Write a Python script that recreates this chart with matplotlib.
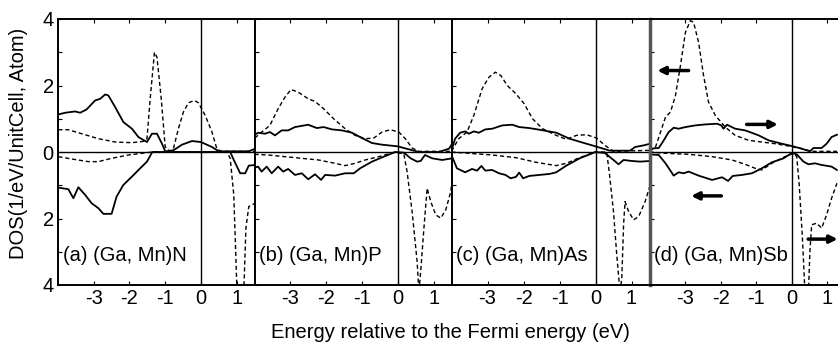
import numpy as np
import matplotlib
matplotlib.use("Agg")
import matplotlib.pyplot as plt

plt.rcParams['font.family'] = ['Liberation Sans', 'DejaVu Sans']
plt.rcParams['axes.unicode_minus'] = False

# (a) (Ga, Mn)N
a_up_solid_e = [-3.99, -3.80, -3.52, -3.38, -3.20, -2.96, -2.82, -2.68, -2.59, -2.40, -2.17, -1.93, -1.75,
                -1.51, -1.37, -1.23, -1.09, -1.00, -0.77, -0.53, -0.25, 0.00, 0.31, 0.50, 1.34, 1.52]
a_up_solid = [1.13, 1.18, 1.22, 1.18, 1.28, 1.55, 1.60, 1.73, 1.70, 1.35, 0.90, 0.70, 0.45,
              0.30, 0.55, 0.55, 0.25, 0.02, 0.05, 0.22, 0.33, 0.30, 0.15, 0.02, 0.02, 0.10]
a_up_dash_e = [-3.99, -3.71, -3.34, -2.87, -2.40, -1.93, -1.61, -1.51, -1.42, -1.30, -1.23, -1.11, -1.00,
               -0.86, -0.77, -0.63, -0.49, -0.35, -0.18, -0.07, 0.12, 0.31, 0.45, 0.59, 1.52]
a_up_dash = [0.67, 0.67, 0.55, 0.40, 0.30, 0.28, 0.32, 0.40, 1.60, 3.00, 2.85, 1.60, 0.15,
             0.02, 0.10, 0.70, 1.20, 1.48, 1.55, 1.48, 1.10, 0.60, 0.08, 0.02, 0.02]
a_dn_solid_e = [-3.99, -3.71, -3.57, -3.43, -3.24, -3.06, -2.87, -2.73, -2.50, -2.36, -2.17, -1.93, -1.70,
                -1.51, -1.36, 0.82, 0.92, 1.10, 1.24, 1.34, 1.52]
a_dn_solid = [-1.07, -1.12, -1.39, -1.06, -1.29, -1.54, -1.69, -1.86, -1.86, -1.34, -0.99, -0.74, -0.49,
              -0.29, 0.00, 0.00, -0.24, -0.64, -0.64, -0.41, -0.39]
a_dn_dash_e = [-3.99, -3.62, -3.15, -2.87, -2.50, -2.03, -1.37, 0.73, 0.82, 0.92, 1.01, 1.10, 1.20,
               1.26, 1.34, 1.52]
a_dn_dash = [-0.14, -0.21, -0.29, -0.29, -0.19, -0.09, 0.00, 0.00, -0.19, -1.29, -4.2, -4.3, -4.2,
             -2.29, -1.64, -1.54]

# (b) (Ga, Mn)P
b_up_solid_e = [-3.99, -3.90, -3.71, -3.57, -3.43, -3.24, -3.06, -2.87, -2.50, -2.26, -2.07, -1.84, -1.56,
                -1.28, -1.00, -0.72, -0.44, 0.00, 0.31, 0.59, 1.15, 1.43, 1.52]
b_up_solid = [0.52, 0.58, 0.55, 0.60, 0.50, 0.65, 0.65, 0.75, 0.82, 0.72, 0.75, 0.68, 0.65,
              0.58, 0.42, 0.27, 0.22, 0.17, 0.08, 0.00, 0.00, 0.10, 0.25]
b_up_dash_e = [-3.99, -3.80, -3.57, -3.34, -3.15, -2.98, -2.78, -2.50, -2.31, -2.07, -1.79, -1.47, -1.19,
               -0.91, -0.67, -0.44, -0.21, 0.03, 0.21, 0.40, 0.59, 1.52]
b_up_dash = [0.42, 0.60, 0.80, 1.30, 1.65, 1.88, 1.80, 1.60, 1.52, 1.30, 1.00, 0.70, 0.50,
             0.40, 0.42, 0.60, 0.67, 0.60, 0.40, 0.12, 0.02, 0.02]
b_dn_solid_e = [-4.00, -3.90, -3.80, -3.66, -3.52, -3.34, -3.20, -3.06, -2.87, -2.68, -2.50, -2.31, -2.14,
                -2.03, -1.75, -1.47, -1.23, -1.05, -0.72, -0.39, -0.07, 0.17, 0.36, 0.54, 0.64, 0.76,
                0.96, 1.24, 1.52]
b_dn_solid = [-0.47, -0.44, -0.59, -0.44, -0.64, -0.44, -0.59, -0.51, -0.69, -0.64, -0.82, -0.67, -0.84,
              -0.69, -0.71, -0.64, -0.64, -0.49, -0.29, -0.14, 0.00, -0.02, -0.19, -0.29, -0.27, -0.09,
              -0.19, -0.24, -0.19]
b_dn_dash_e = [-4.00, -3.62, -3.15, -2.68, -2.21, -1.75, -1.47, -1.19, -0.91, -0.53, -0.07, 0.17, 0.26,
               0.40, 0.54, 0.59, 0.64, 0.73, 0.82, 0.92, 1.06, 1.20, 1.34, 1.48, 1.52]
b_dn_dash = [-0.07, -0.09, -0.14, -0.19, -0.24, -0.34, -0.41, -0.34, -0.24, -0.14, 0.00, -0.06, -0.59,
             -1.79, -3.29, -4.2, -3.59, -2.29, -1.09, -1.49, -1.89, -1.99, -1.74, -1.19, -0.79]

# (c) (Ga, Mn)As
c_up_solid_e = [-4.00, -3.90, -3.76, -3.62, -3.52, -3.38, -3.24, -3.06, -2.87, -2.59, -2.31, -2.12, -1.84,
                -1.56, -1.09, -0.72, -0.35, 0.00, 0.40, 0.96, 1.10, 1.34, 1.52]
c_up_solid = [0.05, 0.40, 0.58, 0.62, 0.55, 0.62, 0.58, 0.68, 0.70, 0.80, 0.82, 0.75, 0.72,
              0.67, 0.58, 0.40, 0.28, 0.17, 0.04, 0.04, 0.15, 0.20, 0.25]
c_up_dash_e = [-4.00, -3.80, -3.57, -3.38, -3.15, -2.96, -2.78, -2.63, -2.45, -2.21, -1.98, -1.75, -1.47,
               -1.09, -0.81, -0.53, -0.25, 0.03, 0.26, 0.50, 1.52]
c_up_dash = [0.02, 0.40, 0.60, 1.10, 1.90, 2.25, 2.40, 2.30, 2.00, 1.75, 1.45, 1.00, 0.70,
             0.50, 0.38, 0.50, 0.52, 0.42, 0.20, 0.02, 0.05]
c_dn_solid_e = [-4.00, -3.85, -3.62, -3.43, -3.29, -3.17, -3.06, -2.87, -2.68, -2.50, -2.36, -2.21, -2.12,
                -2.01, -1.84, -1.56, -1.28, -1.09, -0.81, -0.44, 0.00, 0.26, 0.50, 0.64, 0.78, 1.01,
                1.24, 1.52]
c_dn_solid = [-0.09, -0.49, -0.61, -0.51, -0.56, -0.42, -0.56, -0.54, -0.64, -0.69, -0.79, -0.75, -0.62,
              -0.79, -0.72, -0.69, -0.66, -0.61, -0.41, -0.19, 0.00, -0.03, -0.24, -0.37, -0.24, -0.27,
              -0.29, -0.27]
c_dn_dash_e = [-4.00, -3.52, -2.87, -2.21, -1.65, -1.09, -0.81, -0.44, 0.00, 0.31, 0.38, 0.50, 0.59,
               0.68, 0.73, 0.78, 0.82, 0.92, 1.06, 1.20, 1.38, 1.52]
c_dn_dash = [0.00, -0.04, -0.09, -0.17, -0.31, -0.41, -0.34, -0.17, 0.00, 0.00, -0.59, -1.79, -3.09,
             -4.2, -3.8, -2.19, -1.49, -1.79, -2.04, -1.94, -1.49, -0.99]

# (d) (Ga, Mn)Sb
d_up_solid_e = [-4.00, -3.74, -3.60, -3.46, -3.32, -3.18, -2.99, -2.71, -2.43, -2.10, -1.98, -1.92, -1.82,
                -1.59, -1.31, -0.93, -0.65, -0.28, 0.00, 0.28, 0.51, 0.61, 0.84, 0.98, 1.12, 1.27]
d_up_solid = [0.10, 0.12, 0.35, 0.60, 0.73, 0.70, 0.75, 0.80, 0.83, 0.85, 0.80, 0.70, 0.82,
              0.70, 0.65, 0.50, 0.35, 0.25, 0.18, 0.10, 0.02, 0.12, 0.12, 0.25, 0.45, 0.52]
d_up_dash_e = [-4.00, -3.83, -3.69, -3.55, -3.41, -3.27, -3.13, -2.99, -2.85, -2.76, -2.62, -2.48, -2.34,
               -2.15, -1.87, -1.59, -1.21, -0.84, -0.47, -0.09, 0.28, 0.56, 1.27]
d_up_dash = [0.02, 0.15, 0.60, 1.05, 1.20, 1.70, 2.60, 3.60, 3.95, 3.90, 3.30, 2.30, 1.50,
             1.10, 0.75, 0.50, 0.35, 0.30, 0.25, 0.18, 0.10, 0.02, 0.02]
d_dn_solid_e = [-4.00, -3.74, -3.55, -3.32, -3.18, -3.04, -2.90, -2.62, -2.24, -1.96, -1.79, -1.66, -1.40,
                -1.12, -0.84, -0.56, -0.23, 0.00, 0.14, 0.33, 0.47, 0.65, 0.84, 1.12, 1.27]
d_dn_solid = [-0.07, -0.09, -0.34, -0.71, -0.61, -0.64, -0.59, -0.71, -0.84, -0.76, -0.87, -0.72, -0.69,
              -0.64, -0.49, -0.31, -0.19, -0.03, -0.07, -0.29, -0.37, -0.34, -0.39, -0.44, -0.54]
d_dn_dash_e = [-4.00, -3.55, -2.90, -2.24, -1.68, -1.31, -1.03, -0.84, -0.56, -0.19, 0.05, 0.14, 0.21,
               0.30, 0.37, 0.47, 0.51, 0.56, 0.70, 0.84, 0.98, 1.12, 1.27]
d_dn_dash = [0.00, -0.04, -0.07, -0.14, -0.24, -0.37, -0.49, -0.54, -0.34, -0.14, -0.04, -0.14, -0.99,
             -2.59, -4.2, -4.2, -2.99, -2.19, -2.14, -2.29, -1.89, -1.39, -0.94]

panel_labels = ['(a) (Ga, Mn)N', '(b) (Ga, Mn)P', '(c) (Ga, Mn)As', '(d) (Ga, Mn)Sb']
panel_xmax = [1.5, 1.5, 1.5, 1.3]
panels = [
    (a_up_solid_e, a_up_solid, a_up_dash_e, a_up_dash, a_dn_solid_e, a_dn_solid, a_dn_dash_e, a_dn_dash),
    (b_up_solid_e, b_up_solid, b_up_dash_e, b_up_dash, b_dn_solid_e, b_dn_solid, b_dn_dash_e, b_dn_dash),
    (c_up_solid_e, c_up_solid, c_up_dash_e, c_up_dash, c_dn_solid_e, c_dn_solid, c_dn_dash_e, c_dn_dash),
    (d_up_solid_e, d_up_solid, d_up_dash_e, d_up_dash, d_dn_solid_e, d_dn_solid, d_dn_dash_e, d_dn_dash),
]

# arrows in panel (d): (start E, start DOS, end E, end DOS)
d_arrows = [(-2.90, 2.45, -3.78, 2.45), (-1.27, 0.83, -0.39, 0.83),
            (-1.98, -1.32, -2.83, -1.32), (0.46, -2.62, 1.29, -2.62)]

W, H = 838, 342
FS = 14.5
fig = plt.figure(figsize=(W / 100, H / 100), dpi=100)
edges = [58, 254.5, 451.5, 649.5, 838]
top, bottom = 19, 285
dash = (0, (3, 2))

for i, (data, label, xmax) in enumerate(zip(panels, panel_labels, panel_xmax)):
    x0, x1 = edges[i], edges[i + 1]
    ax = fig.add_axes([x0 / W, 1 - bottom / H, (x1 - x0) / W, (bottom - top) / H])
    us_e, us, ud_e, ud, ds_e, ds, dd_e, dd = data
    ax.plot(us_e, us, color='black', lw=1.3)
    ax.plot(ud_e, ud, color='black', lw=1.0, linestyle=dash)
    ax.plot(ds_e, ds, color='black', lw=1.3)
    ax.plot(dd_e, dd, color='black', lw=1.0, linestyle=dash)
    ax.axhline(0, color='black', lw=1.0)
    ax.axvline(0, color='black', lw=1.0)
    ax.set_xlim(-4.0, xmax)
    ax.set_ylim(-4, 4)
    ax.set_xticks([-3, -2, -1, 0, 1])
    ax.set_yticks([-4, -3, -2, -1, 0, 1, 2, 3, 4])
    ax.tick_params(direction='in', length=3, width=0.8, top=True, labelsize=FS, pad=3)
    if i == 0:
        ax.set_yticklabels(['4', '', '2', '', '0', '', '2', '', '4'])
    else:
        ax.set_yticklabels([])
    for s in ax.spines.values():
        s.set_linewidth(1.4)
    if i == 3:
        ax.spines['right'].set_visible(False)
        ax.spines['left'].set_linewidth(2.5)
        ax.spines['left'].set_color('#555555')
        for a0, b0, a1, b1 in d_arrows:
            ax.annotate('', xy=(a1, b1), xytext=(a0, b0),
                        arrowprops=dict(arrowstyle='-|>', lw=2.5, color='black', mutation_scale=11,
                                        shrinkA=0, shrinkB=0))
    ax.text(0.025, 0.11, label, transform=ax.transAxes, fontsize=FS, va='center', ha='left')

fig.text(450 / W, 1 - 332 / H, 'Energy relative to the Fermi energy (eV)', fontsize=FS,
         ha='center', va='center')
fig.text(19 / W, 1 - 143 / H, 'DOS(1/eV/UnitCell, Atom)', fontsize=FS, rotation=90,
         ha='center', va='center')

fig.savefig('out.png', dpi=100)
